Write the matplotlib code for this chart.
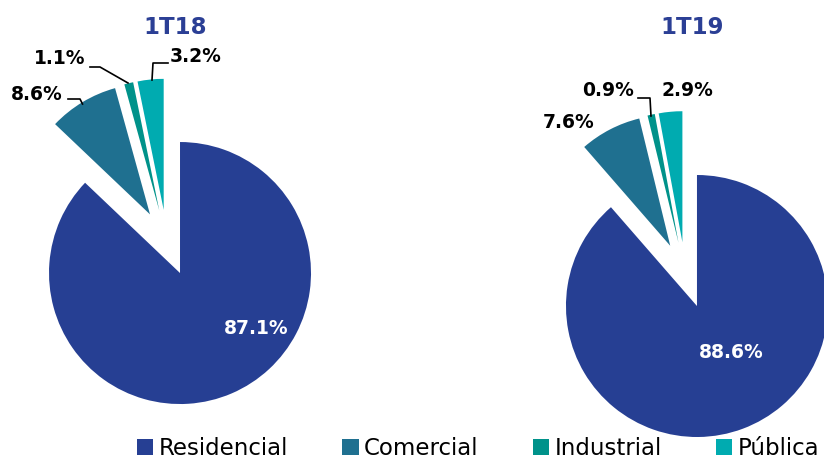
import matplotlib
matplotlib.use("Agg")
import matplotlib.pyplot as plt

# datos
categorias = ["Residencial", "Comercial", "Industrial", "Pública"]
valores_1t18 = [87.1, 8.6, 1.1, 3.2]
valores_1t19 = [88.6, 7.6, 0.9, 2.9]
titulos = ["1T18", "1T19"]
colores = ["#263F93", "#1F7090", "#00928A", "#00ABB0"]

W, H = 824, 459
fig = plt.figure(figsize=(W / 100, H / 100), dpi=100)
ax = fig.add_axes([0, 0, 1, 1])

# pie centres and label spots are in pixel units (y measured from top)
def yy(y):
    return H - y

R = 131
EXP = 33

cuñas_18, _ = ax.pie(valores_1t18, colors=colores, startangle=90, counterclock=False,
                     radius=R, center=(167, yy(242.7)), explode=[EXP] * 4, frame=True)
cuñas_19, _ = ax.pie(valores_1t19, colors=colores, startangle=90, counterclock=False,
                     radius=R, center=(685.4, yy(275.1)), explode=[EXP] * 4, frame=True)

ax.set_xlim(0, W)
ax.set_ylim(0, H)
ax.set_aspect("equal")
ax.axis("off")

azul = "#2B3F95"
ax.text(175, yy(28), titulos[0], ha="center", va="center", fontsize=16.5,
        fontweight="bold", color=azul)
ax.text(692, yy(28), titulos[1], ha="center", va="center", fontsize=16.5,
        fontweight="bold", color=azul)

def pct(v):
    return f"{v:.1f}%"

fs = 13.5
# 1T18 labels
ax.text(256, yy(329), pct(valores_1t18[0]), ha="center", va="center", fontsize=fs,
        fontweight="bold", color="white")
ax.text(37, yy(95), pct(valores_1t18[1]), ha="center", va="center", fontsize=fs, fontweight="bold")
ax.text(60, yy(58), pct(valores_1t18[2]), ha="center", va="center", fontsize=fs, fontweight="bold")
ax.text(196, yy(57), pct(valores_1t18[3]), ha="center", va="center", fontsize=fs, fontweight="bold")
ax.plot([68, 80, 82.5], [yy(99), yy(99), yy(104)], color="black", lw=1.2)
ax.plot([90, 100, 128], [yy(67), yy(67), yy(83)], color="black", lw=1.2)
ax.plot([168, 153, 152], [yy(63), yy(63), yy(80)], color="black", lw=1.2)

# 1T19 labels
ax.text(731.5, yy(352), pct(valores_1t19[0]), ha="center", va="center", fontsize=fs,
        fontweight="bold", color="white")
ax.text(569, yy(122), pct(valores_1t19[1]), ha="center", va="center", fontsize=fs, fontweight="bold")
ax.text(608, yy(90), pct(valores_1t19[2]), ha="center", va="center", fontsize=fs, fontweight="bold")
ax.text(687, yy(90), pct(valores_1t19[3]), ha="center", va="center", fontsize=fs, fontweight="bold")
ax.plot([638, 650, 651], [yy(98), yy(98), yy(116)], color="black", lw=1.2)

fig.legend(cuñas_18, categorias, loc="lower left", bbox_to_anchor=(137 / W, -1 / H),
           ncol=4, frameon=False, fontsize=16.5, handlelength=0.7, handleheight=0.7,
           handletextpad=0.25, columnspacing=2.37, borderpad=0, borderaxespad=0)

fig.savefig("out.png", dpi=100)
